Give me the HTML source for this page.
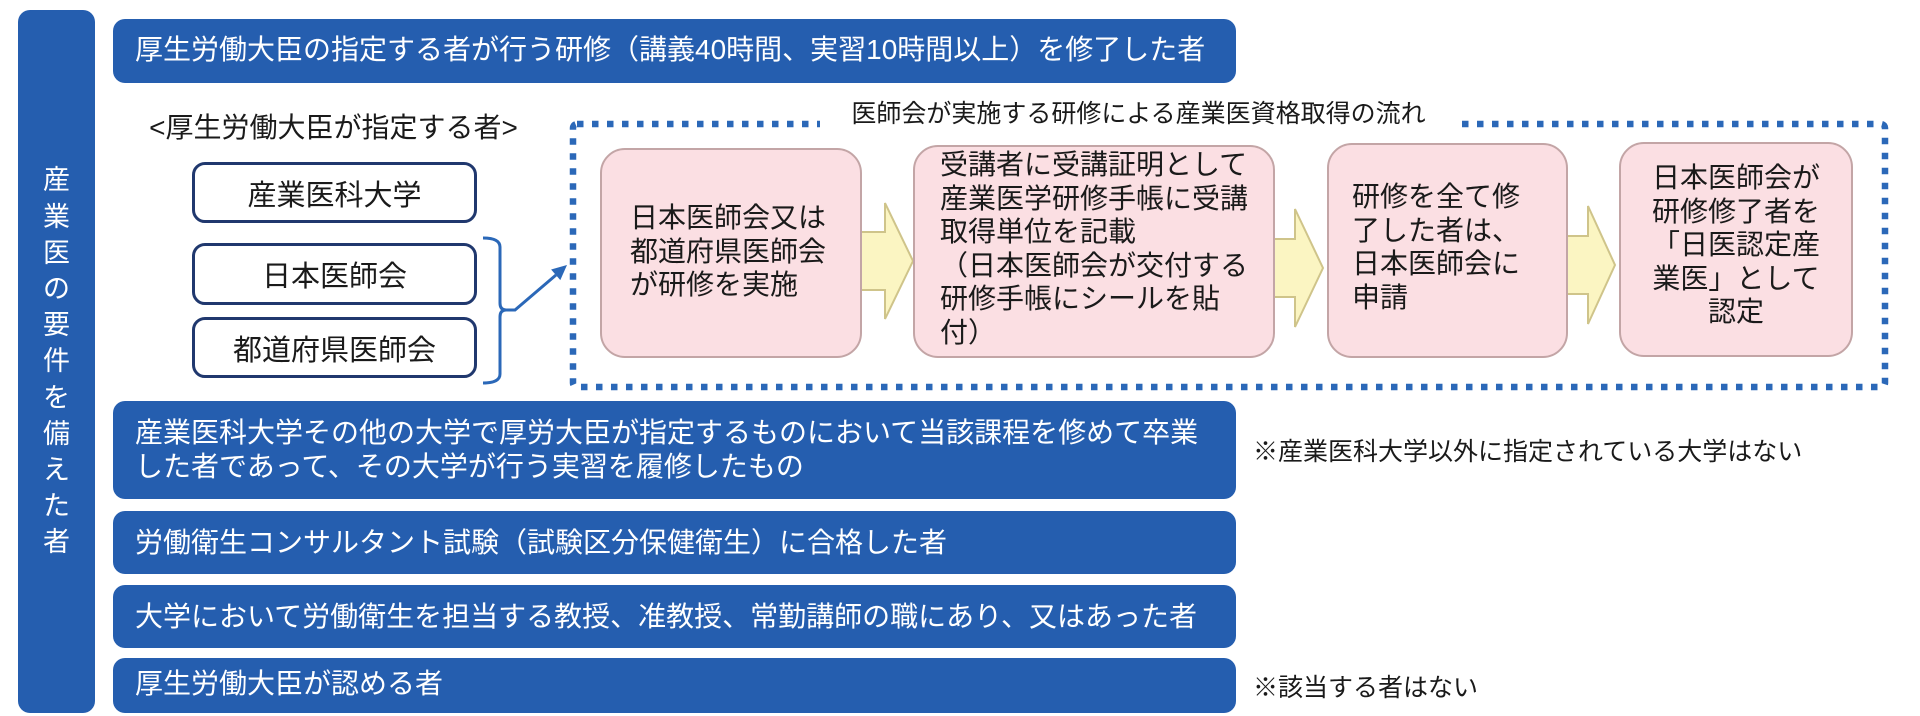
<!DOCTYPE html>
<html><head><meta charset="utf-8">
<style>
html,body{margin:0;padding:0;background:#fff;}
body{width:1920px;height:716px;position:relative;overflow:hidden;font-family:"Liberation Sans","Noto Sans CJK JP",sans-serif;color:#1a1a1a;}
.a{position:absolute;box-sizing:border-box;white-space:nowrap;}
.bl{background:#255EAF;border-radius:12px;color:#fff;font-size:28px;display:flex;align-items:center;padding-left:22px;line-height:34px;z-index:1;}
.wb{background:#fff;border:3px solid #20386E;border-radius:13px;font-size:29px;display:flex;align-items:center;justify-content:center;z-index:1;}
.pk{background:#FBDFE3;border:2px solid #C3A5A6;border-radius:25px;z-index:1;}
.tx{font-size:28px;line-height:33.6px;z-index:2;}
.nt{font-size:25px;line-height:30px;}
</style></head><body>

<svg class="a" style="left:0;top:0;z-index:0" width="1920" height="716" viewBox="0 0 1920 716">
  <rect x="573" y="124" width="1312" height="263" rx="4" fill="none" stroke="#2B68B8" stroke-width="6.5" stroke-dasharray="6.5 8.5"/>
  <path d="M483,238 Q500,238 500,247 L500,303 Q500,310 506,310 Q500,310 500,317 L500,374 Q500,383 483,383" fill="none" stroke="#2B68B8" stroke-width="3"/>
  <polyline points="502,310 515,310 556,275" fill="none" stroke="#2B68B8" stroke-width="3"/>
  <polygon points="567,265 560.3,280.1 551.1,269.5" fill="#2B68B8"/>
  <polygon points="855,232 885,232 885,203 913,261 885,319 885,290 855,290" fill="#FBF5C2" stroke="#CFC48A" stroke-width="2"/>
  <polygon points="1268,239 1295,239 1295,209 1323,268 1295,327 1295,297 1268,297" fill="#FBF5C2" stroke="#CFC48A" stroke-width="2"/>
  <polygon points="1561,236 1588,236 1588,206 1615,265 1588,324 1588,294 1561,294" fill="#FBF5C2" stroke="#CFC48A" stroke-width="2"/>
</svg>

<div class="a" style="left:18px;top:10px;width:77px;height:703px;background:#255EAF;border-radius:12px;color:#fff;font-size:27px;line-height:36.2px;display:flex;align-items:center;justify-content:center;text-align:center;z-index:1;">
<div>産<br>業<br>医<br>の<br>要<br>件<br>を<br>備<br>え<br>た<br>者</div>
</div>

<div class="a bl" style="left:113px;top:19px;width:1123px;height:64px;padding-bottom:2px;">厚生労働大臣の指定する者が行う研修（講義40時間、実習10時間以上）を修了した者</div>
<div class="a bl" style="left:113px;top:401px;width:1123px;height:98px;">産業医科大学その他の大学で厚労大臣が指定するものにおいて当該課程を修めて卒業<br>した者であって、その大学が行う実習を履修したもの</div>
<div class="a bl" style="left:113px;top:511px;width:1123px;height:63px;">労働衛生コンサルタント試験（試験区分保健衛生）に合格した者</div>
<div class="a bl" style="left:113px;top:585px;width:1123px;height:63px;">大学において労働衛生を担当する教授、准教授、常勤講師の職にあり、又はあった者</div>
<div class="a bl" style="left:113px;top:658px;width:1123px;height:55px;padding-bottom:3px;">厚生労働大臣が認める者</div>

<div class="a nt" style="left:1253px;top:437px;">※産業医科大学以外に指定されている大学はない</div>
<div class="a nt" style="left:1253px;top:673px;">※該当する者はない</div>

<div class="a" style="left:142px;top:110px;width:383px;font-size:28px;line-height:36px;text-align:center;">&lt;厚生労働大臣が指定する者&gt;</div>

<div class="a wb" style="left:192px;top:162px;width:285px;height:61px;">産業医科大学</div>
<div class="a wb" style="left:192px;top:243px;width:285px;height:62px;">日本医師会</div>
<div class="a wb" style="left:192px;top:317px;width:285px;height:61px;">都道府県医師会</div>

<div class="a" style="left:820px;top:98px;width:637px;height:32px;background:#fff;font-size:25px;line-height:32px;text-align:center;z-index:2;">医師会が実施する研修による産業医資格取得の流れ</div>

<div class="a pk" style="left:600px;top:148px;width:262px;height:210px;"></div>
<div class="a pk" style="left:913px;top:145px;width:362px;height:213px;"></div>
<div class="a pk" style="left:1327px;top:143px;width:241px;height:215px;"></div>
<div class="a pk" style="left:1619px;top:142px;width:234px;height:215px;"></div>

<div class="a tx" style="left:630px;top:201px;">日本医師会又は<br>都道府県医師会<br>が研修を実施</div>
<div class="a tx" style="left:940px;top:148px;">受講者に受講証明として<br>産業医学研修手帳に受講<br>取得単位を記載<br>（日本医師会が交付する<br>研修手帳にシールを貼<br>付）</div>
<div class="a tx" style="left:1352px;top:180px;">研修を全て修<br>了した者は、<br>日本医師会に<br>申請</div>
<div class="a tx" style="left:1619px;top:161px;width:234px;text-align:center;">日本医師会が<br>研修修了者を<br>「日医認定産<br>業医」として<br>認定</div>

</body></html>
